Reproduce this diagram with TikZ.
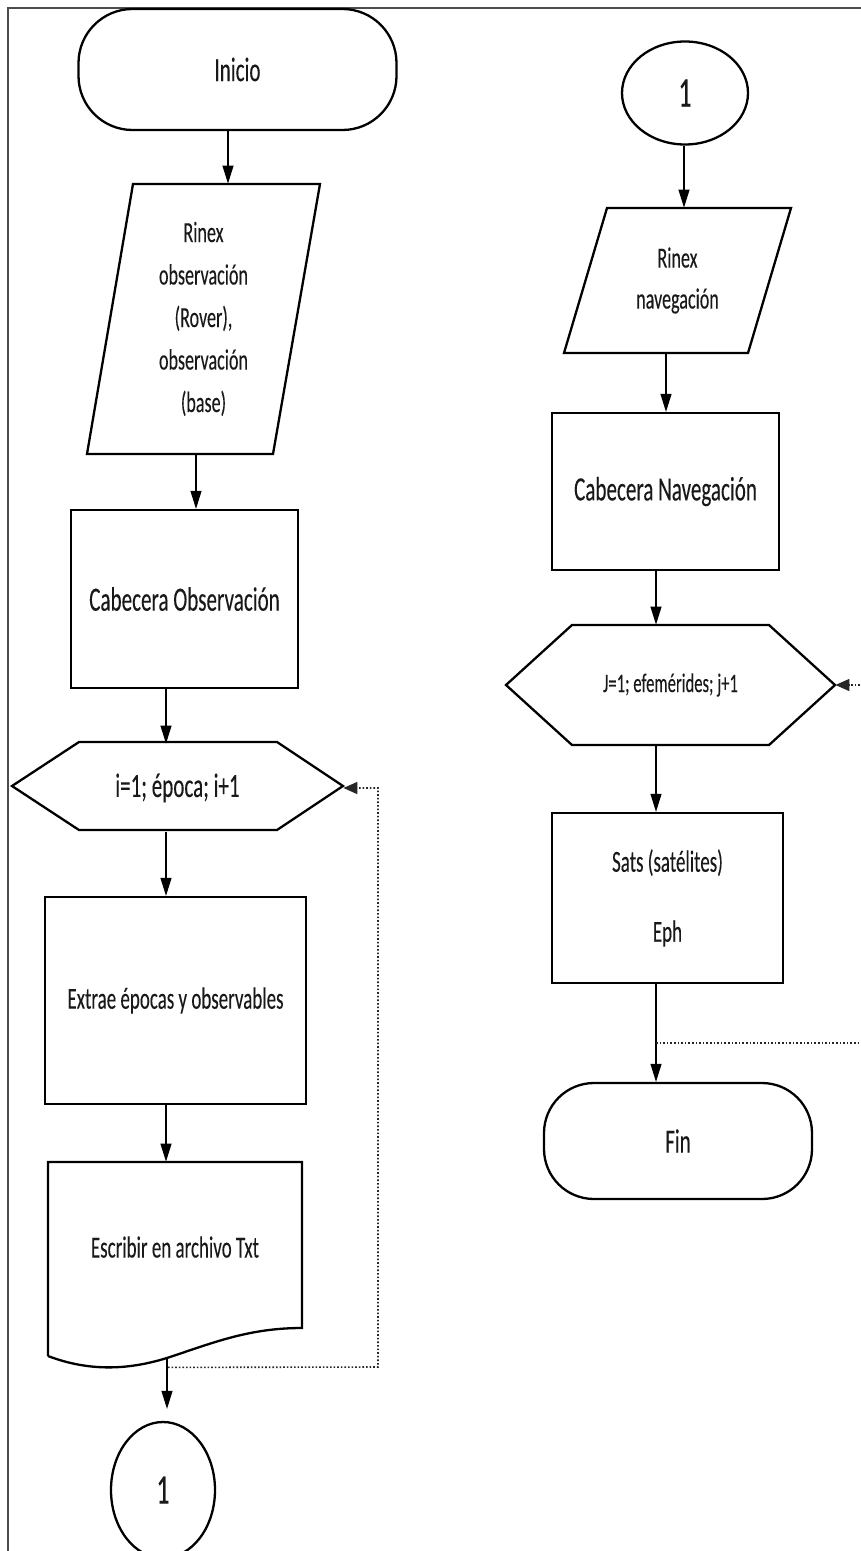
\documentclass[tikz,border=0pt]{standalone}
\usepackage{fontspec}
\setmainfont{Carlito}[FakeStretch=0.62,FakeBold=0.12]
\usetikzlibrary{arrows.meta,shapes.geometric}
\begin{document}
\begin{tikzpicture}[x=0.5pt,y=-0.5pt,
  shapeline/.style={line width=1.15pt, draw=black},
  conn/.style={line width=0.55pt, draw=black, -{Triangle[length=9pt,width=5.5pt]}},
  loopline/.style={line width=0.8pt, draw=black!85, densely dotted, -{Triangle[length=7pt,width=6pt]}},
  txt/.style={inner sep=0pt, align=center, text=black!90},
  fbig/.style={font=\fontsize{17}{20}\selectfont},
  fmid/.style={font=\fontsize{15.3}{18}\selectfont},
  fsmall/.style={font=\fontsize{13.4}{16}\selectfont},
  fnum/.style={font=\fontsize{21}{24}\selectfont},
]
\useasboundingbox (0,0) rectangle (861,1551);
\clip (0,0) rectangle (861,1551);
\fill[white] (0,0) rectangle (861,1551);
% frame
\draw[line width=0.6pt, black!70] (8,1551) -- (8,8) -- (861,8);

% ---------- left column ----------
\node[txt, fbig, shapeline, rounded corners=27pt, minimum width=159pt, minimum height=60.5pt] (ini) at (237.5,69.5) {Inicio};

\draw[shapeline] (133,184) -- (320,184) -- (273,454) -- (87,454) -- cycle;
\node[txt, font=\fontsize{14.6}{21.25}\selectfont, minimum width=116.5pt, minimum height=135pt] (par1) at (203.5,319) {Rinex\\observación\\(Rover),\\observación\\(base)};

\node[txt, fbig, shapeline, minimum width=113.5pt, minimum height=89pt] (cabobs) at (184.5,599) {Cabecera Observación};

\draw[shapeline] (12,786) -- (79,742) -- (277,742) -- (343,786) -- (277,830) -- (79,830) -- cycle;
\node[txt, fbig, minimum width=165.5pt, minimum height=44pt] (hexi) at (177.5,788) {i=1; época; i+1};

\node[txt, fmid, shapeline, minimum width=130.5pt, minimum height=103.5pt] (extrae) at (175.5,1000.5) {Extrae épocas y observables};

\draw[shapeline] (48,1356) -- (48,1162) -- (302,1162) -- (302,1328)
  .. controls (250,1328) and (215,1342) .. (170,1357)
  .. controls (130,1370) and (90,1372) .. (48,1356);
\node[txt, fmid, minimum width=127pt, minimum height=85pt] (doc) at (175,1247) {Escribir en archivo Txt};

\node[txt, fnum, shapeline, ellipse, minimum width=52pt, minimum height=68pt] (c1b) at (163,1490) {1};

\draw[conn] ([xshift=-4.75pt]ini.south) -- ([xshift=12.25pt]par1.north);
\draw[conn] ([xshift=-3.75pt]par1.south) -- ([xshift=5.75pt]cabobs.north);
\draw[conn] ([xshift=-9.25pt]cabobs.south) -- ([xshift=-5.75pt]hexi.north);
\draw[conn] ([xshift=-5.75pt]hexi.south) -- ([xshift=-4.75pt]extrae.north);
\draw[conn] ([xshift=-4.75pt]extrae.south) -- ([xshift=-4.5pt]doc.north);
\draw[conn] ([xshift=-4pt,yshift=-13pt]doc.south) -- ([xshift=2pt,yshift=6pt]c1b.north);

\coordinate (lpL) at (378,1367);
\draw[loopline] ([xshift=-3.5pt,yshift=-17.5pt]doc.south) -- (lpL) |- (hexi.east);

% ---------- right column ----------
\node[txt, fnum, shapeline, ellipse, minimum width=63pt, minimum height=51.5pt] (c1t) at (685,93) {1};

\draw[shapeline] (607,208) -- (791,208) -- (748,353) -- (564,353) -- cycle;
\node[txt, font=\fontsize{14.6}{20.5}\selectfont, minimum width=113.5pt, minimum height=72.5pt] (par2) at (677.5,280.5) {Rinex\\navegación};

\node[txt, fbig, shapeline, minimum width=113.5pt, minimum height=78.5pt] (cabnav) at (665.5,491.5) {Cabecera Navegación};

\draw[shapeline] (506,685) -- (572,625) -- (769,625) -- (835,685) -- (769,745) -- (572,745) -- cycle;
\node[txt, fsmall, minimum width=164.5pt, minimum height=60pt] (hexj) at (670.5,685) {J=1; efemérides; j+1};

\node[txt, font=\fontsize{15.3}{35}\selectfont, shapeline, minimum width=115.5pt, minimum height=85pt] (sats) at (667.5,898) {Sats (satélites)\\Eph};

\node[txt, fbig, shapeline, rounded corners=25pt, minimum width=134pt, minimum height=58pt] (fin) at (678,1141) {Fin};

\draw[conn] ([xshift=-0.5pt]c1t.south) -- ([xshift=3.25pt]par2.north);
\draw[conn] ([xshift=-5.75pt]par2.south) -- ([xshift=0.25pt]cabnav.north);
\draw[conn] ([xshift=-4.75pt]cabnav.south) -- ([xshift=-7.25pt]hexj.north);
\draw[conn] ([xshift=-7.25pt]hexj.south) -- ([xshift=-5.75pt]sats.north);
\draw[conn] ([xshift=-5.75pt]sats.south) -- ([xshift=-11pt]fin.north);

\coordinate (jn) at (656,1043);
\coordinate (rr) at (885,1043);
\draw[loopline] (jn) -- (rr) |- (hexj.east);
\end{tikzpicture}
\end{document}
